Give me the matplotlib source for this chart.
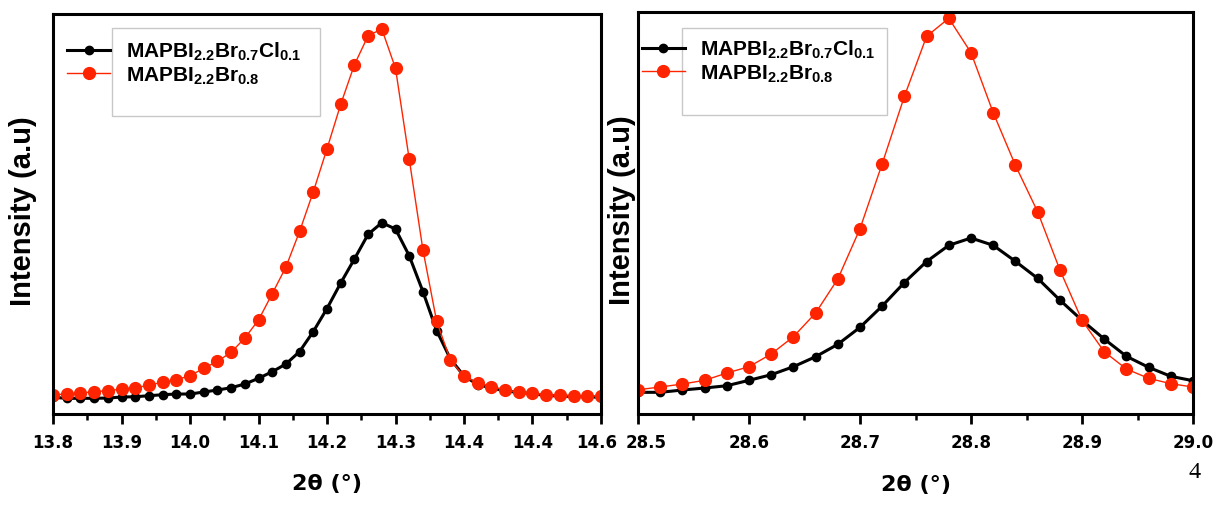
#!/usr/bin/env python3
"""Two XRD peak close-ups: MAPBI2.2Br0.7Cl0.1 vs MAPBI2.2Br0.8."""
import matplotlib

matplotlib.use("Agg")
import matplotlib.pyplot as plt  # noqa: E402
from matplotlib.patches import Rectangle  # noqa: E402
from matplotlib.ticker import MultipleLocator  # noqa: E402
from matplotlib.transforms import ScaledTranslation  # noqa: E402

RED = "#FF2400"
LABELS = [
    r"MAPBI$_{2.2}$Br$_{0.7}$Cl$_{0.1}$",
    r"MAPBI$_{2.2}$Br$_{0.8}$",
]

# left panel, peak near 14.3 deg
theta_left = [
    13.80, 13.82, 13.84, 13.86, 13.88, 13.90, 13.92, 13.94, 13.96, 13.98,
    14.00, 14.02, 14.04, 14.06, 14.08, 14.10, 14.12, 14.14, 14.16, 14.18,
    14.20, 14.22, 14.24, 14.26, 14.28, 14.30, 14.32, 14.34, 14.36, 14.38,
    14.40, 14.42, 14.44, 14.46, 14.48, 14.50, 14.52, 14.54, 14.56, 14.58,
    14.60,
]
cl_left = [
    16.7, 15.7, 15.7, 15.7, 16.0, 17.0, 17.3, 18.3, 19.3, 20.0,
    20.0, 22.0, 24.0, 26.3, 30.0, 35.7, 42.3, 50.0, 62.5, 82.5,
    105.5, 131.0, 155.0, 179.7, 191.3, 185.0, 158.3, 122.5, 83.5, 55.3,
    38.0, 29.5, 26.0, 23.2, 21.5, 20.5, 18.3, 18.3, 17.3, 17.3,
    16.7,
]
br_left = [
    19.3, 20.0, 21.0, 22.3, 23.3, 25.0, 26.0, 29.0, 31.7, 34.3,
    38.3, 45.7, 52.7, 61.7, 76.0, 94.0, 120.3, 147.0, 182.7, 222.3,
    265.3, 309.7, 349.3, 378.3, 385.0, 345.7, 255.0, 164.3, 93.0, 54.0,
    37.7, 31.3, 27.5, 24.2, 21.7, 21.3, 19.2, 18.8, 18.3, 18.3,
    17.8,
]
ticks_left = [13.8, 13.9, 14.0, 14.1, 14.2, 14.3, 14.4, 14.5, 14.6]
ticklabels_left = ["13.8", "13.9", "14.0", "14.1", "14.2", "14.3", "14.4", "14.4", "14.6"]

# right panel, peak near 28.8 deg
theta_right = [
    28.50, 28.52, 28.54, 28.56, 28.58, 28.60, 28.62, 28.64, 28.66, 28.68,
    28.70, 28.72, 28.74, 28.76, 28.78, 28.80, 28.82, 28.84, 28.86, 28.88,
    28.90, 28.92, 28.94, 28.96, 28.98, 29.00,
]
cl_right = [
    21.7, 21.7, 24.0, 26.0, 28.3, 33.7, 39.3, 47.3, 57.3, 69.7,
    86.7, 108.0, 131.5, 152.5, 168.7, 176.0, 168.7, 152.7, 135.7, 114.0,
    93.7, 75.0, 57.7, 46.7, 37.7, 33.3,
]
br_right = [
    24.3, 27.0, 30.0, 33.7, 41.0, 47.3, 60.0, 77.3, 101.0, 135.0,
    185.3, 250.3, 317.7, 377.7, 395.7, 361.3, 301.3, 248.7, 202.3, 144.3,
    93.7, 62.3, 45.0, 35.7, 30.3, 27.0,
]
ticks_right = [28.5, 28.6, 28.7, 28.8, 28.9, 29.0]
ticklabels_right = ["28.5", "28.6", "28.7", "28.8", "28.9", "29.0"]

plt.rcParams["mathtext.fontset"] = "custom"
plt.rcParams["mathtext.rm"] = "Liberation Sans:bold"
plt.rcParams["mathtext.it"] = "Liberation Sans:bold"
plt.rcParams["mathtext.bf"] = "Liberation Sans:bold"


def draw_panel(ax, x, black, red, xlim, ylim, ticks, ticklabels,
               box, legend_anchor, ylabel_x):
    ax.plot(x, black, color="black", lw=2.2, marker="o", ms=6, label=LABELS[0])
    ax.plot(x, red, color=RED, lw=1.0, marker="o", ms=8.5, label=LABELS[1])
    ax.set_xlim(*xlim)
    ax.set_ylim(*ylim)
    ax.set_xticks(ticks)
    ax.set_xticklabels(ticklabels, fontweight="bold", family="DejaVu Sans")
    ax.xaxis.set_minor_locator(MultipleLocator(0.05))
    ax.set_yticks([])
    ax.tick_params(axis="x", which="major", direction="out", length=7,
                   width=2, pad=7, labelsize=12)
    ax.tick_params(axis="x", which="minor", direction="out", length=4, width=1.8)
    for spine in ax.spines.values():
        spine.set_linewidth(2.2)

    ax.set_xlabel("2θ (°)", fontsize=16, fontweight="bold", family="DejaVu Sans")
    ax.xaxis.set_label_coords(0.5, -0.148)
    ax.set_ylabel("Intensity (a.u)", fontsize=21, fontweight="bold",
                  family="Liberation Sans")
    ax.yaxis.set_label_coords(ylabel_x, 0.51)

    ax.add_patch(Rectangle(box[:2], box[2], box[3], transform=ax.transAxes,
                           facecolor="white", edgecolor="#c8c8c8", lw=1.0,
                           zorder=3))
    leg = ax.legend(loc="upper left", bbox_to_anchor=legend_anchor,
                    frameon=False, borderpad=0, borderaxespad=0,
                    handlelength=2.07, handletextpad=0.75, labelspacing=0.1,
                    prop={"family": "Liberation Sans", "weight": "bold", "size": 15})
    leg.set_zorder(5)


fig = plt.figure(figsize=(12.25, 5.06), dpi=100)
ax_l = fig.add_axes([0.0433, 0.1798, 0.4473, 0.7905])
ax_r = fig.add_axes([0.5208, 0.1798, 0.4531, 0.7945])

draw_panel(ax_l, theta_left, cl_left, br_left, (13.8, 14.6), (0, 400),
           ticks_left, ticklabels_left,
           (0.1077, 0.745, 0.3796, 0.22), (0.0255, 0.935), -0.029)
draw_panel(ax_r, theta_right, cl_right, br_right, (28.5, 29.0), (0, 402),
           ticks_right, ticklabels_right,
           (0.0787, 0.7438, 0.3694, 0.2164), (0.0067, 0.935), -0.004)

# the two end labels sit close together; nudge them apart as in the original
nudge = 6 / 72
first_right = ax_r.get_xticklabels()[0]
first_right.set_transform(first_right.get_transform()
                          + ScaledTranslation(nudge, 0, fig.dpi_scale_trans))
last_left = ax_l.get_xticklabels()[-1]
last_left.set_transform(last_left.get_transform()
                        + ScaledTranslation(-nudge / 2, 0, fig.dpi_scale_trans))

fig.text(1195 / 1225, 1 - 473 / 506, "4", ha="center", va="center",
         family="Liberation Serif", fontsize=17.5)

fig.savefig("out.png", dpi=100)
